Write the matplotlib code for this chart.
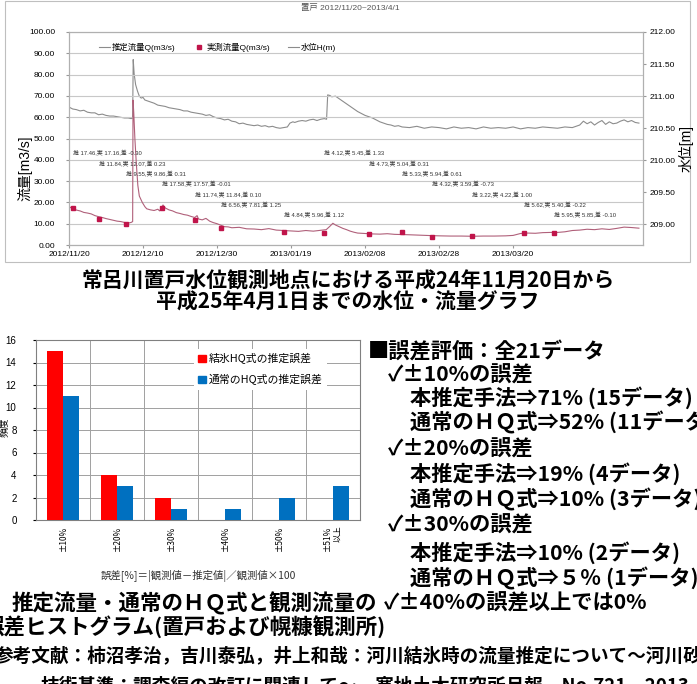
"""
Oketo gauge: water level / discharge time series, plus error histogram slide
"""

import datetime as dt
import matplotlib.pyplot as plt
import matplotlib.dates as mdates
from matplotlib.lines import Line2D
from matplotlib.patches import Patch, Rectangle

W, H = 697, 684
JP = ['Noto Sans CJK JP', 'DejaVu Sans']
plt.rcParams['font.family'] = ['Liberation Sans', 'Noto Sans CJK JP', 'DejaVu Sans']

# ---- time series data (days after 2012/11/20) ----
start = dt.datetime(2012, 11, 20)
q_days = [0, 0.5, 1, 2, 3, 4, 5, 6, 7, 8, 9, 10, 11, 12, 13, 14, 15, 16, 16.8, 17.2,
          17.3, 17.5, 17.8, 18.2, 18.6, 19.0, 19.4, 19.8, 20.5, 21, 22, 23, 24, 24.5,
          25, 25.4, 26, 27, 28, 29, 30, 31, 32, 33, 34, 34.6, 35, 36, 37, 38, 39, 40,
          41, 42, 43, 44, 46, 48, 50, 52, 54, 56, 58, 60, 62, 64, 66, 68, 69.5, 70.5,
          71.3, 72, 73, 74, 75, 76, 77, 78, 80, 82, 84, 86, 88, 90, 92, 95, 98, 100,
          103, 106, 109, 112, 115, 118, 120, 122, 124, 126, 128, 130, 132, 134, 136,
          138, 140, 142, 144, 146, 148, 150, 152, 154]
q_vals = [18.2, 17.5, 17.0, 16.4, 16.0, 15.3, 15.0, 14.6, 13.8, 13.3, 12.9, 12.4, 12.0,
          11.6, 11.2, 11.0, 10.6, 10.3, 10.6, 11.0, 68.0, 62.0, 50.0, 38.0, 28.0, 23.0,
          21.5, 20.0, 18.0, 17.0, 16.5, 16.2, 16.8, 16.0, 17.5, 18.8, 17.4, 16.5, 16.0,
          15.2, 14.8, 14.3, 14.0, 13.4, 12.9, 13.8, 12.2, 11.8, 12.5, 11.2, 10.5, 10.0,
          9.3, 8.6, 8.5, 8.1, 8.3, 7.6, 7.5, 7.2, 7.7, 7.0, 6.8, 6.6, 6.4, 6.8, 6.5, 6.9,
          7.2, 8.8, 10.2, 9.4, 8.6, 7.8, 7.2, 6.5, 6.0, 5.6, 5.4, 5.2, 5.1, 5.3, 5.0,
          4.9, 4.8, 4.6, 4.4, 4.3, 4.2, 4.2, 4.1, 4.2, 4.2, 4.3, 4.5, 5.4, 5.6, 5.5,
          5.8, 5.9, 5.9, 6.2, 6.8, 7.0, 7.4, 7.2, 7.6, 7.3, 7.8, 8.4, 8.2, 7.9]

h_days = [0, 1, 2, 3, 4, 5, 6, 7, 8, 9, 10, 11, 12, 13, 14, 15, 16, 16.8, 17.2, 17.35,
          17.6, 18, 18.5, 19, 19.5, 20, 20.5, 21, 22, 23, 24, 25, 26, 27, 28, 29, 30,
          31, 32, 33, 34, 35, 36, 37, 38, 39, 40, 41, 42, 43, 44, 45, 46, 47, 48, 49,
          50, 51, 52, 53, 54, 55, 56, 57, 58, 59, 59.7, 60.5, 61, 62, 63, 64, 65, 66,
          67, 68, 69, 69.6, 69.9, 70.5, 71, 72, 73, 74, 75, 76, 77, 78, 79, 80, 81,
          82, 83, 84, 85, 86, 87, 88, 89, 90, 92, 94, 96, 98, 100, 102, 104, 106, 108,
          110, 112, 114, 116, 118, 120, 122, 124, 126, 128, 130, 132, 134, 136, 138,
          139, 140, 141, 142, 143, 144, 145, 146, 147, 148, 149, 150, 151, 152, 153,
          154]
h_vals = [210.83, 210.80, 210.79, 210.77, 210.78, 210.75, 210.74, 210.74, 210.71,
          210.72, 210.70, 210.69, 210.69, 210.68, 210.67, 210.66, 210.66, 210.65,
          210.66, 211.57, 211.35, 211.18, 211.08, 211.00, 210.97, 210.98, 210.94,
          210.93, 210.91, 210.89, 210.86, 210.85, 210.84, 210.82, 210.81, 210.80,
          210.79, 210.77, 210.77, 210.75, 210.74, 210.73, 210.72, 210.70, 210.71,
          210.68, 210.66, 210.65, 210.63, 210.64, 210.61, 210.60, 210.57, 210.58,
          210.56, 210.55, 210.54, 210.55, 210.53, 210.54, 210.52, 210.53, 210.51,
          210.50, 210.51, 210.52, 210.58, 210.60, 210.59, 210.61, 210.62, 210.61,
          210.63, 210.64, 210.62, 210.64, 210.65, 210.64, 211.02, 211.01, 210.99,
          211.00, 210.96, 210.92, 210.88, 210.84, 210.80, 210.76, 210.73, 210.70,
          210.68, 210.66, 210.63, 210.60, 210.58, 210.56, 210.55, 210.53, 210.54,
          210.52, 210.51, 210.53, 210.50, 210.52, 210.51, 210.49, 210.52, 210.50,
          210.51, 210.49, 210.52, 210.50, 210.51, 210.50, 210.52, 210.49, 210.51,
          210.50, 210.52, 210.51, 210.50, 210.52, 210.51, 210.55, 210.61, 210.57,
          210.60, 210.55, 210.59, 210.62, 210.56, 210.60, 210.57, 210.58, 210.61,
          210.63, 210.60, 210.62, 210.59, 210.58]

obs_days = [1, 8, 15.5, 25, 34, 41, 58, 69, 81, 90, 98, 109, 123, 131]
obs_q = [17.16, 12.07, 9.86, 17.57, 11.84, 7.81, 5.96, 5.45, 5.04, 5.94, 3.59, 4.22,
         5.40, 5.85]
est_q = [17.46, 11.84, 9.55, 17.58, 11.74, 6.56, 4.84, 4.12, 4.73, 5.33, 4.32, 3.22,
         5.62, 5.95]

# ---- histogram data ----
hist_labels = ['±10%', '±20%', '±30%', '±40%', '±50%', '±51%\n以上']
ice_hq = [15, 4, 2, 0, 0, 0]
normal_hq = [11, 3, 1, 1, 2, 3]

summary_lines = ['■誤差評価：全21データ',
                 '✓±10%の誤差', '本推定手法⇒71% (15データ)', '通常のＨＱ式⇒52% (11データ)',
                 '✓±20%の誤差', '本推定手法⇒19% (4データ)', '通常のＨＱ式⇒10% (3データ)',
                 '✓±30%の誤差', '本推定手法⇒10% (2データ)', '通常のＨＱ式⇒５％ (1データ)',
                 '✓±40%の誤差以上では0%']


def fx(px):
    return px / W


def fy(py):
    return 1 - py / H


fig = plt.figure(figsize=(W / 100, H / 100), dpi=100)

# frame of the top chart
fig.patches.append(Rectangle((fx(5), fy(262)), fx(685), 261 / H, transform=fig.transFigure,
                             fill=False, edgecolor='#bfbfbf', lw=0.8))

# ---- top chart ----
base = mdates.date2num(start)
ax = fig.add_axes([fx(69), fy(245), 574 / W, 213 / H])
ax2 = ax.twinx()
ax.set_zorder(ax2.get_zorder() + 1)
ax.patch.set_visible(False)

ax2.plot([base + d for d in h_days], h_vals, color='#8c8c8c', lw=0.8)
ax.plot([base + d for d in q_days], q_vals, color='#b0607a', lw=0.8)
ax.plot([base + d for d in obs_days], obs_q, 's', color='#c0144a', ms=2.8, ls='none')

for i, (d, e, o) in enumerate(zip(obs_days, est_q, obs_q)):
    ax.text(base + d, 43 - 4.85 * (i % 7), f'推 {e:.2f},実 {o:.2f},差 {o - e:.2f}',
            fontsize=4.2, color='#333333', va='center', ha='left')

ax.set_xlim(base, base + 155.1)
ax.set_ylim(0, 100)
ax.set_yticks(range(0, 101, 10))
ax.yaxis.set_major_formatter(plt.FuncFormatter(lambda v, p: f'{v:.2f}'))
ax.set_xticks([base + 20 * k for k in range(7)])
ax.xaxis.set_major_formatter(mdates.DateFormatter('%Y/%m/%d'))
ax.grid(axis='y', color='#c8c8c8', lw=0.8)
ax.tick_params(labelsize=6, length=2, color='#999999', pad=2)
ax.tick_params(axis='y', pad=8)

ax2.set_ylim(208.68, 212.0)
ax2.set_yticks([209.0, 209.5, 210.0, 210.5, 211.0, 211.5, 212.0])
ax2.yaxis.set_major_formatter(plt.FuncFormatter(lambda v, p: f'{v:.2f}'))
ax2.tick_params(labelsize=6, length=2, color='#999999', pad=3)
for a in (ax, ax2):
    for s in a.spines.values():
        s.set_color('#b0b0b0')
        s.set_linewidth(0.8)

handles = [Line2D([], [], color='#8c8c8c', lw=0.8),
           Line2D([], [], marker='s', color='#c0144a', ms=2.5, ls='none'),
           Line2D([], [], color='#8c8c8c', lw=0.8)]
ax.legend(handles, ['推定流量Q(m3/s)', '実測流量Q(m3/s)', '水位H(m)'], ncol=3,
          loc='upper left', bbox_to_anchor=(0.04, 0.985), frameon=False, fontsize=6,
          handlelength=1.3, handletextpad=0.2, columnspacing=2.2)

fig.text(fx(350), fy(8), '置戸 2012/11/20~2013/4/1', fontsize=6, color='#555555',
         ha='center', va='center')
fig.text(fx(25), fy(168), '流量[m3/s]', fontsize=10, rotation=90, ha='center', va='center')
fig.text(fx(686), fy(148), '水位[m]', fontsize=10, rotation=90, ha='center', va='center')

# caption of the top chart
fig.text(fx(348), fy(281), '常呂川置戸水位観測地点における平成24年11月20日から', family=JP,
         fontsize=15, fontweight='bold', ha='center', va='center')
fig.text(fx(348), fy(302), '平成25年4月1日までの水位・流量グラフ', family=JP,
         fontsize=15, fontweight='bold', ha='center', va='center')

# ---- histogram ----
axh = fig.add_axes([fx(36), fy(520), 324 / W, 180 / H])
pos = list(range(len(hist_labels)))
bw = 0.29
axh.bar([p - bw / 2 for p in pos], ice_hq, bw, color='#ff0000', zorder=3)
axh.bar([p + bw / 2 for p in pos], normal_hq, bw, color='#0070c0', zorder=3)
axh.set_xlim(-0.5, len(pos) - 0.5)
axh.set_ylim(0, 16)
axh.set_yticks(range(0, 17, 2))
axh.set_xticks(pos)
axh.set_xticklabels(hist_labels, rotation=90, va='top', ha='center', multialignment='right',
                    fontsize=6, family=JP)
axh.set_xticks([p + 0.5 for p in pos[:-1]], minor=True)
axh.grid(axis='y', color='#a0a0a0', lw=0.7, zorder=0)
axh.grid(axis='x', which='minor', color='#a0a0a0', lw=0.7, zorder=0)
axh.tick_params(axis='x', which='both', length=0, pad=4)
axh.tick_params(axis='y', labelsize=7, length=2, pad=12)
for s in axh.spines.values():
    s.set_color('#808080')
    s.set_linewidth(0.8)
axh.legend([Patch(color='#ff0000'), Patch(color='#0070c0')],
           ['結氷HQ式の推定誤差', '通常のHQ式の推定誤差'], loc='upper left',
           bbox_to_anchor=(0.47, 0.98), frameon=True, facecolor='white',
           edgecolor='none', framealpha=1, handlelength=0.7, handleheight=0.7,
           handletextpad=0.3, labelspacing=0.9, prop={'family': JP, 'size': 7.8})
fig.text(fx(4), fy(427), '頻度', family=JP, fontsize=7, rotation=90, ha='center', va='center')
fig.text(fx(198), fy(576), '誤差[%]＝|観測値－推定値|／観測値×100', family=JP, fontsize=7.5,
         ha='center', va='center', color='#333333')

# ---- summary text ----
line_y = [352, 375, 398, 422, 449, 474, 499, 525, 553, 578, 603]
line_x = [368, 388, 410, 410, 388, 410, 410, 388, 410, 410, 384]
for txt, x, y in zip(summary_lines, line_x, line_y):
    fig.text(fx(x), fy(y), txt, family=JP, fontsize=15.3, fontweight='bold',
             ha='left', va='center')

fig.text(fx(12), fy(603), '推定流量・通常のＨＱ式と観測流量の', family=JP, fontsize=15.5,
         fontweight='bold', ha='left', va='center')
fig.text(fx(386), fy(627), '誤差ヒストグラム(置戸および幌糠観測所)', family=JP, fontsize=15.5,
         fontweight='bold', ha='right', va='center')

fig.text(fx(-5), fy(656), '参考文献：柿沼孝治，吉川泰弘，井上和哉：河川結氷時の流量推定について～河川砂防',
         family=JP, fontsize=13.4, fontweight='bold', ha='left', va='center')
fig.text(fx(40), fy(686), '技術基準：調査編の改訂に関連して～，寒地土木研究所月報，No.721，2013',
         family=JP, fontsize=13.4, fontweight='bold', ha='left', va='center')

fig.savefig('out.png', dpi=100)
